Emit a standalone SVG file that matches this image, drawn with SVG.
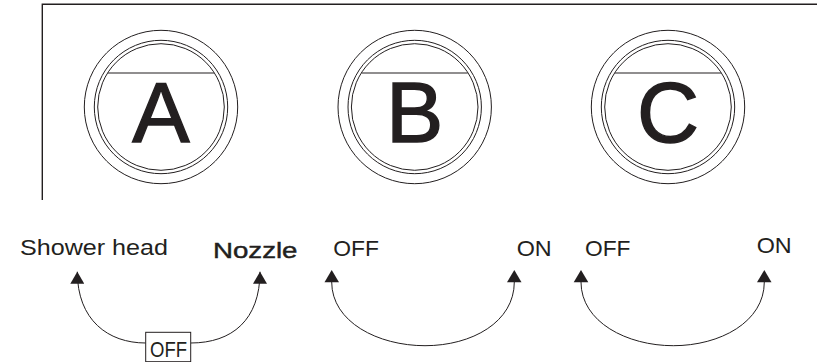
<svg xmlns="http://www.w3.org/2000/svg" width="817" height="362" viewBox="0 0 817 362">
<defs>
<style>
.frame{fill:none;stroke:#231f20;stroke-width:1.4}
.ring{fill:none;stroke:#231f20;stroke-width:1}
.chord{stroke:#231f20;stroke-width:1.2}
.big{font-family:"Liberation Sans",Arial,sans-serif;font-size:86px;fill:#231f20;stroke:#231f20;stroke-width:1.4;text-anchor:middle}
.lbl{font-family:"Liberation Sans",Arial,sans-serif;font-size:22px;fill:#231f20}
.med{stroke:#231f20;stroke-width:0.45}
.conn{fill:none;stroke:#231f20;stroke-width:1}
.box{fill:#fff;stroke:#231f20;stroke-width:1}
</style>
<marker id="ah" viewBox="0 0 12 14" refX="12" refY="7" markerWidth="12" markerHeight="14" markerUnits="userSpaceOnUse" orient="auto">
<path d="M0,0 L12,7 L0,14 Z" fill="#231f20"/>
</marker>
</defs>
<rect width="817" height="362" fill="#fff"/>
<g id="frame">
<path class="frame" d="M42.3,200 L42.3,4.3 L817,4.3"/>
</g>
<g id="knobA">
<circle class="ring" cx="161" cy="107" r="76.7"/>
<circle class="ring" cx="161" cy="107" r="66.7"/>
<circle class="ring" cx="161" cy="107" r="63.3"/>
<line class="chord" x1="108" y1="73" x2="214" y2="73"/>
<text class="big" x="161" y="141.5">A</text>
</g>
<g id="knobB">
<circle class="ring" cx="414.7" cy="107" r="76.7"/>
<circle class="ring" cx="414.7" cy="107" r="66.7"/>
<circle class="ring" cx="414.7" cy="107" r="63.3"/>
<line class="chord" x1="361.7" y1="73" x2="467.7" y2="73"/>
<text class="big" x="414.7" y="141.5">B</text>
</g>
<g id="knobC">
<circle class="ring" cx="668" cy="107" r="76.7"/>
<circle class="ring" cx="668" cy="107" r="66.7"/>
<circle class="ring" cx="668" cy="107" r="63.3"/>
<line class="chord" x1="615" y1="73" x2="721" y2="73"/>
<text class="big" x="668" y="141.5">C</text>
</g>
<g id="labels">
<text class="lbl" x="20" y="255" textLength="148" lengthAdjust="spacingAndGlyphs">Shower head</text>
<text class="lbl med" x="213" y="258" textLength="84.5" lengthAdjust="spacingAndGlyphs">Nozzle</text>
<text class="lbl" x="333.3" y="256" textLength="45.7" lengthAdjust="spacingAndGlyphs">OFF</text>
<text class="lbl" x="516.7" y="256" textLength="35" lengthAdjust="spacingAndGlyphs">ON</text>
<text class="lbl" x="585" y="256" textLength="45.5" lengthAdjust="spacingAndGlyphs">OFF</text>
<text class="lbl" x="756.7" y="253.3" textLength="35" lengthAdjust="spacingAndGlyphs">ON</text>
</g>
<g id="connectors">
<path class="conn" marker-end="url(#ah)" d="M145.7,343 C108,343 77.3,320 77.3,271.7"/>
<path class="conn" marker-end="url(#ah)" d="M190.7,343 C232,343 260,320 260,271.7"/>
<path class="conn" d="M331.7,282 C331.7,322 378,345.7 425,345.7 C472,345.7 514.3,322 514.3,282"/>
<path class="conn" d="M581,282 C581,322 627,345.7 673.3,345.7 C720,345.7 764.3,322 764.3,282"/>
<polygon fill="#231f20" points="331.7,270 324.5,282.3 339,282.3"/>
<polygon fill="#231f20" points="514.3,270 507,282.3 521.5,282.3"/>
<polygon fill="#231f20" points="581,270 573.7,282.3 588.3,282.3"/>
<polygon fill="#231f20" points="764.3,270 757,282.3 771.5,282.3"/>
</g>
<g id="offbox">
<rect class="box" x="145.7" y="332.3" width="45" height="29.4"/>
<text class="lbl" x="150" y="357" font-size="21" textLength="37" lengthAdjust="spacingAndGlyphs">OFF</text>
</g>
</svg>
